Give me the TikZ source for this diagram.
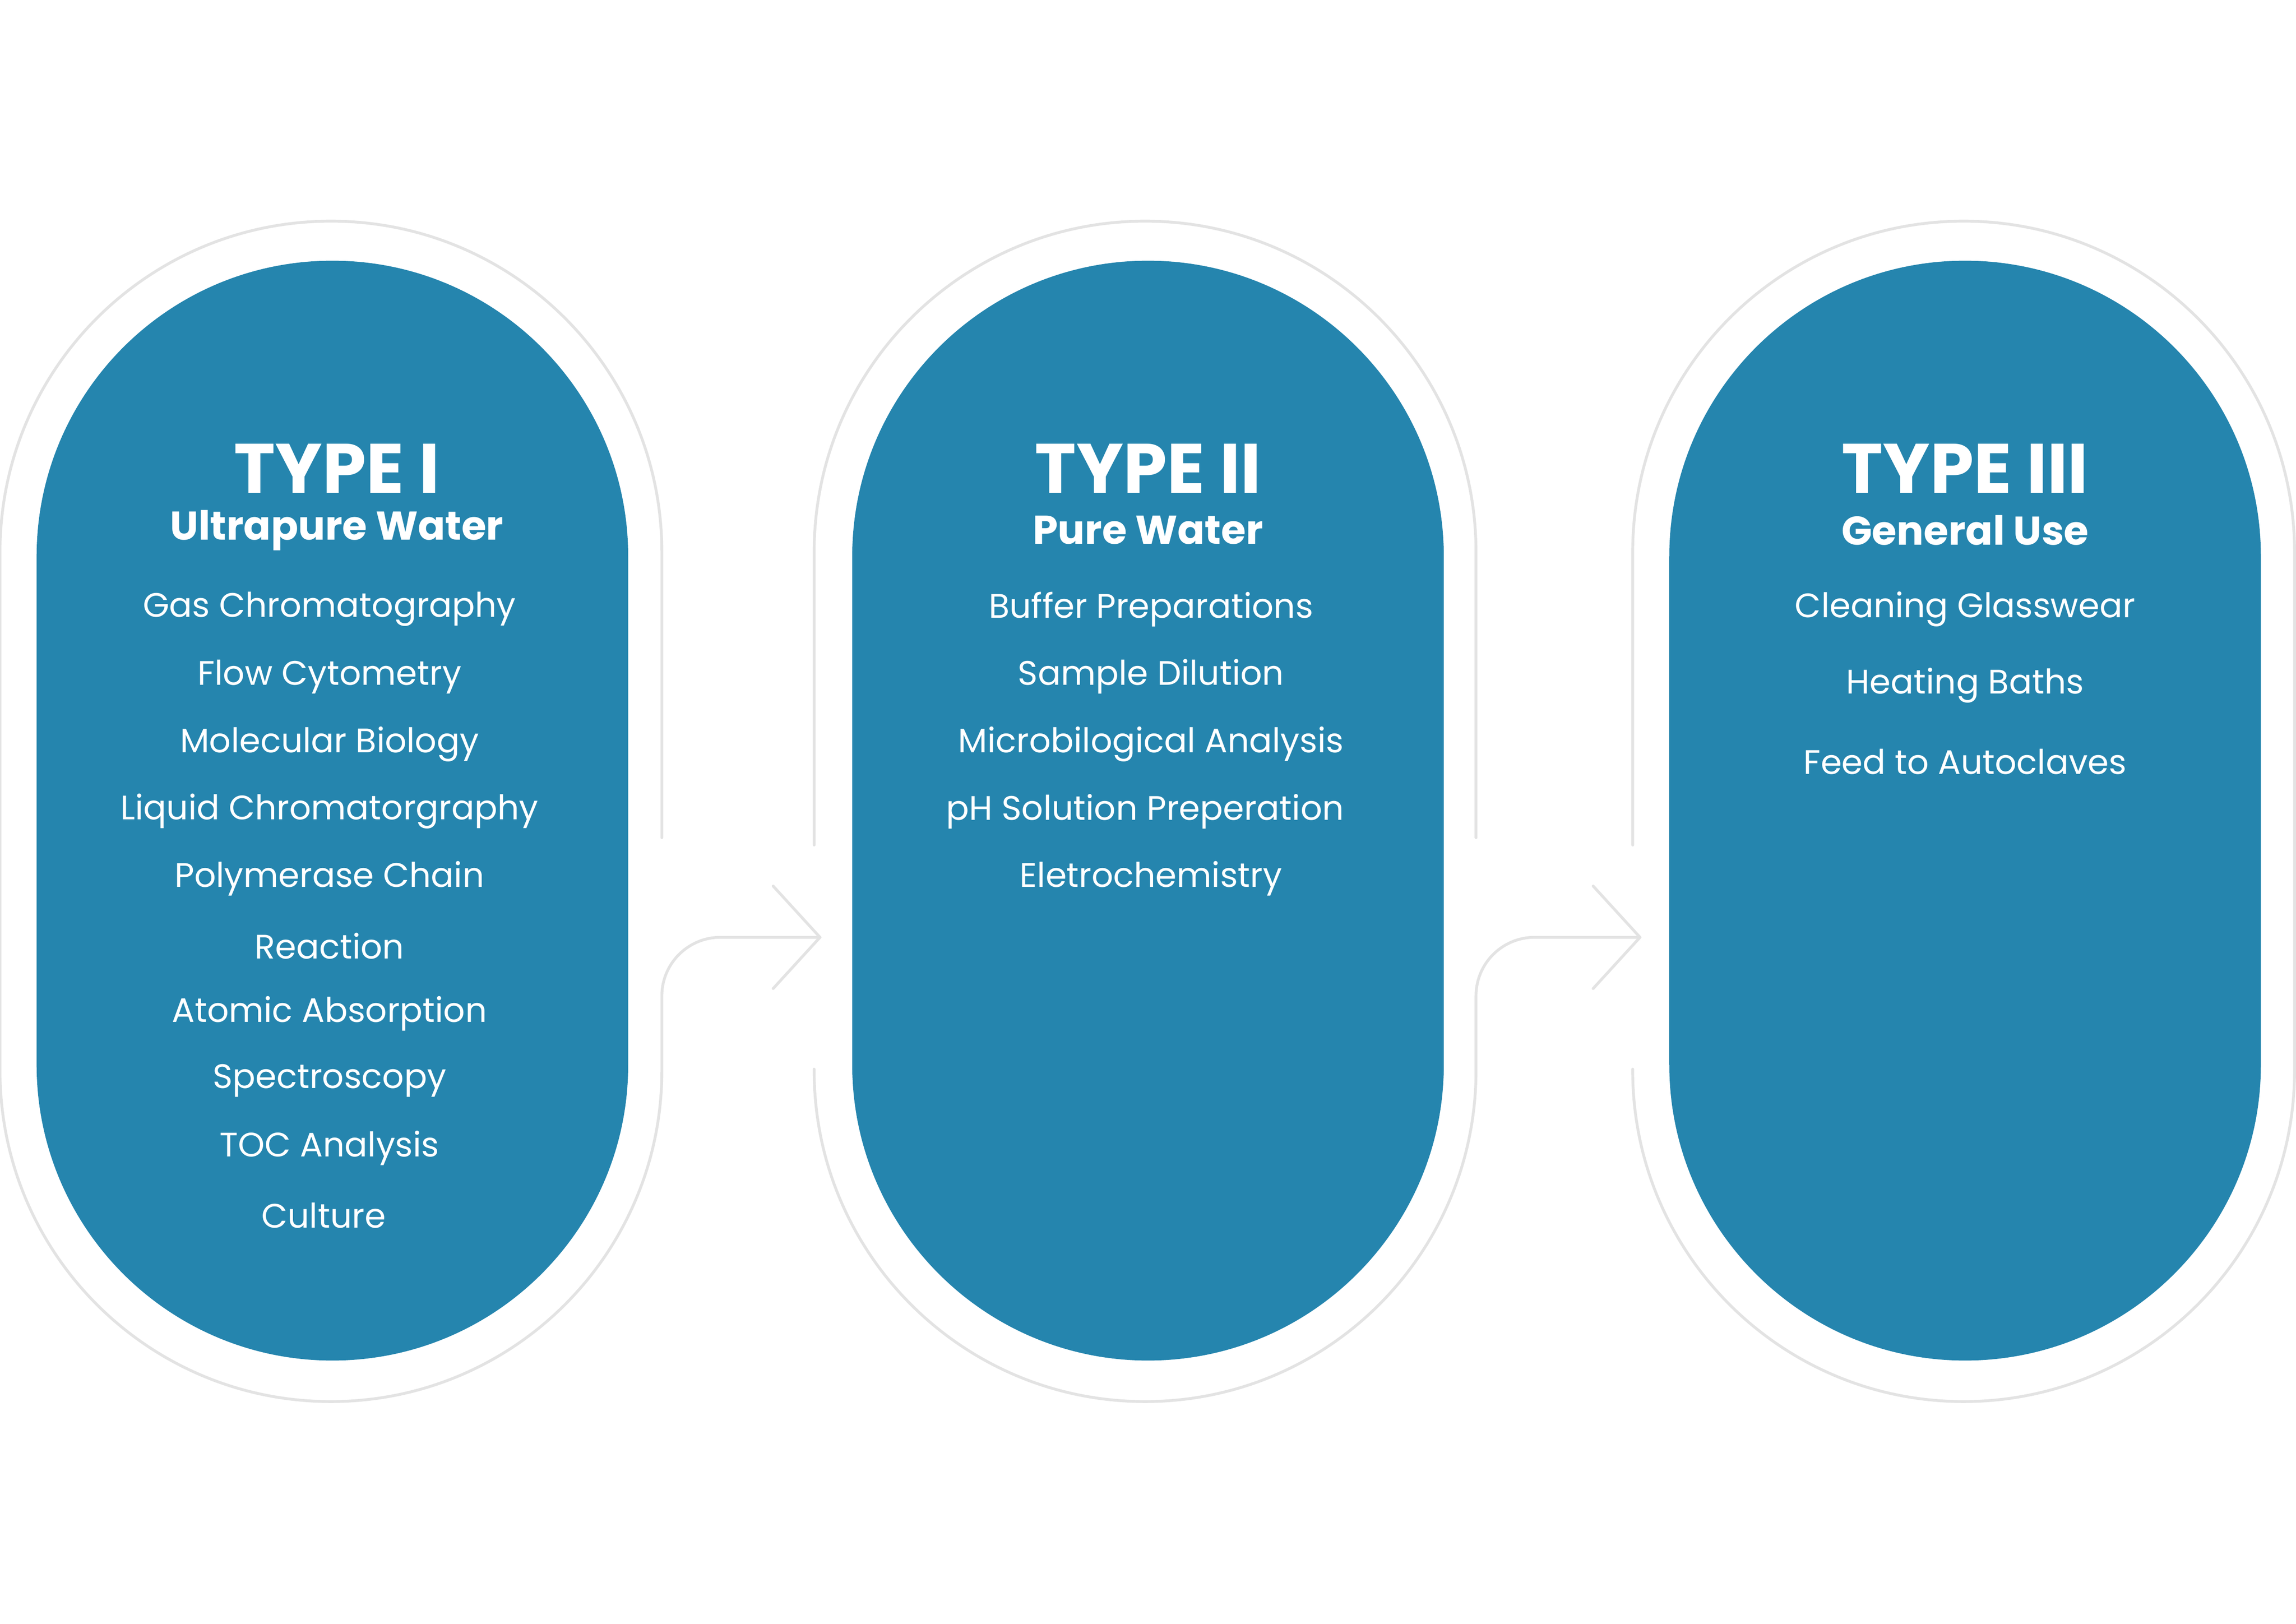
\documentclass[tikz,border=0pt]{standalone}
\usepackage{fontspec}
\setmainfont{Poppins}
\definecolor{pillblue}{HTML}{2585AE}
\definecolor{ringgray}{HTML}{E3E3E3}
\tikzset{
 ring/.style={draw=ringgray,line width=5.5pt,line cap=round,line join=round},
 pill/.style={fill=pillblue,draw=none},
 ttl/.style={text=white,font=\fontsize{136}{140}\selectfont\bfseries,anchor=center},
 sub/.style={text=white,font=\fontsize{78}{80}\selectfont\bfseries,anchor=center},
 itm/.style={text=white,font=\fontsize{66}{70}\selectfont,anchor=center},
}
\begin{document}
\begin{tikzpicture}[x=0.1cm,y=-0.1cm]
\useasboundingbox (0,0) rectangle (1568,1108.6);
% rings
\draw[ring] (452,572) -- (452,377) arc[start angle=0,end angle=-180,radius=226] -- (0,731) arc[start angle=180,end angle=0,radius=226] -- (452,680) arc[start angle=180,end angle=270,radius=40] -- (560,640);
\draw[ring] (528,605) -- (560,640) -- (528,675);
\draw[ring] (556,577) -- (556,377) arc[start angle=180,end angle=360,radius=226] -- (1008,572);
\draw[ring] (556,730) -- (556,731) arc[start angle=180,end angle=0,radius=226] -- (1008,680) arc[start angle=180,end angle=270,radius=40] -- (1120,640);
\draw[ring] (1088,605) -- (1120,640) -- (1088,675);
\draw[ring] (1115,577) -- (1115,377) arc[start angle=180,end angle=360,radius=226] -- (1567,731) arc[start angle=0,end angle=180,radius=226] -- (1115,730);
% pills
\fill[pill] (25,380) arc[start angle=180,end angle=360,radius=202] -- (429,727) arc[start angle=0,end angle=180,radius=202] -- cycle;
\fill[pill] (582,380) arc[start angle=180,end angle=360,radius=202] -- (986,727) arc[start angle=0,end angle=180,radius=202] -- cycle;
\fill[pill] (1140,380) arc[start angle=180,end angle=360,radius=202] -- (1544,727) arc[start angle=0,end angle=180,radius=202] -- cycle;
% texts type I
\node[ttl] (t1) at (230,320) {TYPE I};
\node[sub] (s1) at (230,362) {Ultrapure Water};
\node[itm] (a1) at (225,416) {Gas Chromatography};
\node[itm] (a2) at (225,462) {Flow Cytometry};
\node[itm] (a3) at (225,508) {Molecular Biology};
\node[itm] (a4) at (225,554) {Liquid Chromatorgraphy};
\node[itm] (a5) at (225,600) {Polymerase Chain};
\node[itm] (a6) at (225,646) {Reaction};
\node[itm] (a7) at (225,692) {Atomic Absorption};
\node[itm] (a8) at (225,738) {Spectroscopy};
\node[itm] (a9) at (225,784) {TOC Analysis};
\node[itm] (a10) at (221,830) {Culture};
% type II
\node[ttl] (t2) at (784,320) {TYPE II};
\node[sub] (s2) at (784,362) {Pure Water};
\node[itm] (b1) at (786,416) {Buffer Preparations};
\node[itm] (b2) at (786,462) {Sample Dilution};
\node[itm] (b3) at (786,508) {Microbilogical Analysis};
\node[itm] (b4) at (782,554) {pH Solution Preperation};
\node[itm] (b5) at (786,600) {Eletrochemistry};
% type III
\node[ttl] (t3) at (1342,320) {TYPE III};
\node[sub] (s3) at (1342,362) {General Use};
\node[itm] (c1) at (1342,416) {Cleaning Glasswear};
\node[itm] (c2) at (1342,468) {Heating Baths};
\node[itm] (c3) at (1342,520) {Feed to Autoclaves};
\end{tikzpicture}
\end{document}
